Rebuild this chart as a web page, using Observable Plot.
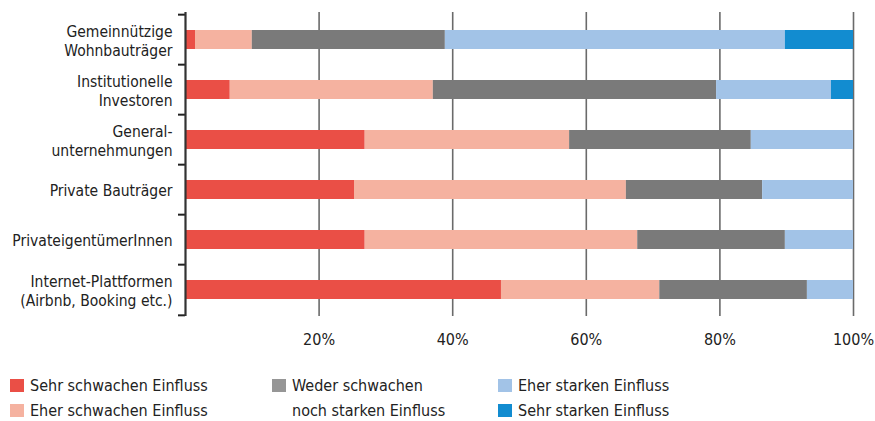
<!DOCTYPE html>
<html>
<head>
<meta charset="utf-8">
<script src="https://cdn.jsdelivr.net/npm/d3@7"></script>
<script src="https://cdn.jsdelivr.net/npm/@observablehq/plot@0.6"></script>
<style>
  html, body { margin: 0; padding: 0; background: #fff; }
  body { width: 875px; height: 421px; overflow: hidden; font-family: "Liberation Sans Narrow", "DejaVu Sans Condensed", sans-serif; color: #222; }
  #chart svg { display: block; }
  #legend { position: relative; height: 61px; }
  .item { position: absolute; font-size: 16px; line-height: 25px; white-space: nowrap; }
  .sw { position: absolute; width: 14px; height: 13px; left: -20px; top: 6px; }
</style>
</head>
<body>
<div id="chart"></div>
<div id="legend"></div>
<script>
const categories = [
  "Gemeinnützige\nWohnbauträger",
  "Institutionelle\nInvestoren",
  "General-\nunternehmungen",
  "Private Bauträger",
  "PrivateigentümerInnen",
  "Internet-Plattformen\n(Airbnb, Booking etc.)"
];
const seriesNames = [
  "Sehr schwachen Einfluss",
  "Eher schwachen Einfluss",
  "Weder schwachen noch starken Einfluss",
  "Eher starken Einfluss",
  "Sehr starken Einfluss"
];
const sehrSchwach   = [1.5, 6.7, 26.9, 25.3, 26.9, 47.3];
const eherSchwach   = [8.5, 30.4, 30.6, 40.7, 40.8, 23.7];
const weder         = [28.9, 42.4, 27.2, 20.4, 22.1, 22.1];
const eherStark     = [50.9, 17.2, 15.3, 13.6, 10.2, 6.9];
const sehrStark     = [10.2, 3.3, 0, 0, 0, 0];
const xTicks = [20, 40, 60, 80, 100];
const colors = ["#EA4F46", "#F5B2A0", "#7A7A7A", "#A2C3E7", "#128CD0"];
const legendColors = ["#EA4F46", "#F5B2A0", "#969696", "#A2C3E7", "#128CD0"];

const seriesValues = [sehrSchwach, eherSchwach, weder, eherStark, sehrStark];
const data = [];
seriesNames.forEach((s, si) => {
  categories.forEach((c, ci) => {
    data.push({category: c, series: s, value: seriesValues[si][ci]});
  });
});

const H = 360, mT = 12, mB = 44;
const step = (H - mT - mB) / categories.length;

const chart = Plot.plot({
  width: 875,
  height: H,
  marginLeft: 185,
  marginRight: 22,
  marginTop: mT,
  marginBottom: mB,
  style: {fontFamily: '"Liberation Sans Narrow", "DejaVu Sans Condensed", sans-serif', fontSize: "16px", color: "#222"},
  x: {domain: [0, 100], axis: null},
  y: {domain: categories, paddingInner: 0.625, paddingOuter: 0.3125, axis: null},
  color: {domain: seriesNames, range: colors},
  marks: [
    Plot.ruleX(xTicks, {stroke: "#6a6a6a", strokeWidth: 1.6}),
    Plot.barX(data, Plot.stackX({x: "value", y: "category", fill: "series", order: null})),
    Plot.axisX(xTicks, {tickSize: 0, tickPadding: 17, tickFormat: d => d + "%", fontSize: 16, anchor: "bottom", label: null}),
    Plot.axisY({tickSize: 0, tickPadding: 13, fontSize: 15.5, lineHeight: 1.25, textAnchor: "end", label: null}),
    Plot.ruleY(categories, {y: d => d, dy: -step / 2, x1: -1.05, x2: 0, stroke: "#222", strokeWidth: 2}),
    Plot.ruleY([categories[categories.length - 1]], {y: d => d, dy: step / 2, x1: -1.05, x2: 0, stroke: "#222", strokeWidth: 2}),
    Plot.ruleX([0], {stroke: "#333", strokeWidth: 2.2})
  ]
});
document.getElementById("chart").appendChild(chart);

const legendItems = [
  {i: 0, x: 30, y: 0, text: "Sehr schwachen Einfluss"},
  {i: 1, x: 30, y: 25, text: "Eher schwachen Einfluss"},
  {i: 2, x: 292, y: 0, text: "Weder schwachen<br>noch starken Einfluss"},
  {i: 3, x: 518, y: 0, text: "Eher starken Einfluss"},
  {i: 4, x: 518, y: 25, text: "Sehr starken Einfluss"}
];
const legend = document.getElementById("legend");
legendItems.forEach(it => {
  const d = document.createElement("div");
  d.className = "item";
  d.style.left = it.x + "px";
  d.style.top = (it.y + 13) + "px";
  d.innerHTML = `<span class="sw" style="background:${legendColors[it.i]}"></span>` + it.text;
  legend.appendChild(d);
});
</script>
</body>
</html>
